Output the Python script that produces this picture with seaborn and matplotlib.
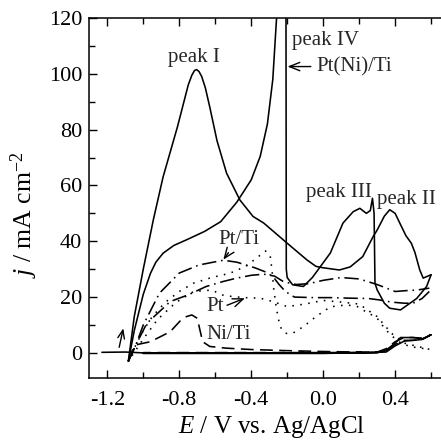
import numpy as np
import pandas as pd
import matplotlib
matplotlib.use("Agg")
import matplotlib.pyplot as plt
import seaborn as sns
from matplotlib.ticker import MultipleLocator

# ---------------- data ----------------
# Pt(Ni)/Ti, solid, forward scan (peak IV goes off scale, then peak III)
ptni_fwd_E = [-1.083, -1.05, -1.0, -0.96, -0.93, -0.89, -0.83, -0.76, -0.66, -0.57, -0.48, -0.40,
              -0.35, -0.31, -0.28, -0.26, -0.245, -0.225, -0.212, -0.207, -0.205, -0.20, -0.17,
              -0.11, -0.06, 0.04, 0.11, 0.167, 0.204, 0.24, 0.262, 0.274, 0.283, 0.288, 0.30,
              0.315, 0.34, 0.37, 0.43, 0.52, 0.575, 0.60]
ptni_fwd_j = [-3.0, 8.0, 21.0, 28.5, 32.5, 35.7, 38.5, 40.5, 43.5, 47.0, 54.0, 62.0,
              70.4, 82.0, 98.0, 119.0, 132.0, 145.0, 150.0, 140.0, 30.0, 27.0, 24.4,
              23.8, 27.0, 35.8, 46.5, 50.6, 51.8, 50.0, 51.0, 55.4, 50.0, 25.0, 22.6,
              20.8, 17.8, 16.0, 15.4, 19.5, 23.8, 28.0]
# Pt(Ni)/Ti, solid, reverse scan (peak II, then peak I)
ptni_rev_E = [0.60, 0.556, 0.537, 0.51, 0.49, 0.46, 0.426, 0.40, 0.37, 0.34, 0.30, 0.278, 0.22,
              0.15, 0.09, 0.0, -0.04, -0.09, -0.20, -0.33, -0.39, -0.463, -0.537, -0.59, -0.63,
              -0.655, -0.675, -0.69, -0.703, -0.715, -0.73, -0.75, -0.78, -0.81, -0.85, -0.89,
              -0.944, -1.0, -1.05, -1.083]
ptni_rev_j = [28.0, 26.8, 29.7, 36.0, 39.3, 42.0, 46.5, 50.0, 51.3, 49.0, 44.0, 41.7, 34.5,
              30.8, 29.7, 30.5, 31.0, 33.3, 39.3, 46.5, 48.9, 54.8, 64.4, 76.0, 88.0,
              95.0, 99.0, 100.8, 101.5, 101.2, 99.5, 96.0, 88.5, 81.0, 72.0, 63.0,
              47.7, 30.0, 13.0, -3.0]

# Pt/Ti, dash-dot (upper and lower branch)
ptti_up_E = [-1.083, -1.04, -1.0, -0.91, -0.80, -0.69, -0.555, -0.48, -0.43, -0.38, -0.32, -0.28,
             -0.245, -0.21, -0.16, -0.05, 0.05, 0.15, 0.25, 0.31, 0.38, 0.45, 0.50, 0.55, 0.59]
ptti_up_j = [-3.0, 3.0, 10.0, 21.4, 28.6, 31.5, 33.2, 32.5, 31.5, 30.5, 29.0, 27.4,
             24.5, 22.0, 20.0, 19.8, 19.8, 19.6, 19.5, 19.0, 18.2, 17.8, 17.8, 19.5, 22.0]
ptti_lo_E = [-1.083, -1.04, -0.98, -0.94, -0.85, -0.75, -0.65, -0.555, -0.48, -0.40, -0.33,
             -0.27, -0.22, -0.15, -0.08, 0.0, 0.10, 0.20, 0.30, 0.40, 0.46, 0.52, 0.59]
ptti_lo_j = [-3.0, 3.0, 10.6, 13.0, 18.4, 20.8, 23.8, 25.6, 26.8, 27.8, 28.2,
             27.5, 25.5, 24.5, 24.8, 26.0, 27.0, 26.5, 24.5, 22.0, 22.3, 22.5, 23.2]

# Pt, dotted
pt_fwd_E = [-1.083, -1.04, -1.0, -0.95, -0.88, -0.80, -0.72, -0.62, -0.52, -0.43, -0.36, -0.32,
            -0.295, -0.285, -0.275, -0.26, -0.24, -0.21, -0.17, -0.11, -0.04, 0.04, 0.13, 0.19,
            0.22, 0.27, 0.31, 0.34, 0.38, 0.42, 0.48, 0.54, 0.59]
pt_fwd_j = [-3.0, 3.0, 8.0, 13.0, 18.0, 22.0, 25.0, 27.0, 28.5, 31.0, 34.5, 36.5,
            35.0, 30.0, 23.0, 16.0, 9.4, 7.0, 7.0, 9.4, 13.0, 16.5, 17.2, 16.6,
            15.4, 13.6, 11.8, 8.8, 6.2, 4.0, 2.3, 1.7, 1.3]
pt_rev_E = [0.59, 0.45, 0.38, 0.30, 0.20, 0.10, 0.0, -0.10, -0.20, -0.28, -0.35, -0.44,
            -0.55, -0.62, -0.72, -0.82, -0.92, -1.0, -1.083]
pt_rev_j = [1.3, 3.5, 7.0, 13.0, 17.5, 18.2, 18.8, 17.5, 16.6, 18.4, 19.6, 19.8,
            20.5, 22.5, 22.0, 18.0, 12.0, 5.0, -3.0]

# Ni/Ti, dashed
niti_E = [-1.083, -1.06, -1.04, -0.96, -0.85, -0.79, -0.76, -0.73, -0.70, -0.685, -0.67, -0.63,
          -0.54, -0.40, -0.20, 0.0, 0.20, 0.30, 0.35, 0.40, 0.45, 0.50, 0.55, 0.60,
          0.55, 0.50, 0.45, 0.40, 0.35, 0.30, 0.0, -0.5, -1.0]
niti_j = [-3.0, 1.0, 2.9, 4.0, 7.6, 11.8, 13.0, 13.6, 12.4, 8.2, 4.0, 2.3,
          1.7, 1.2, 0.8, 0.5, 0.3, 0.3, 1.5, 4.0, 5.5, 5.5, 5.3, 6.5,
          4.8, 4.5, 4.5, 3.0, 0.8, 0.2, 0.1, 0.1, 0.1]

# base line, solid
base_E = [-1.23, -1.10, -1.0, 0.30, 0.35, 0.40, 0.43, 0.50, 0.55, 0.60,
          0.55, 0.45, 0.40, 0.35, 0.0, -1.0]
base_j = [0.2, 0.3, 0.0, 0.0, 1.0, 3.5, 5.5, 5.5, 5.0, 6.5,
          4.8, 4.2, 2.5, 0.3, -0.2, -0.2]

x_ticks = [-1.2, -0.8, -0.4, 0.0, 0.4]
y_ticks = [0, 20, 40, 60, 80, 100, 120]

# ---------------- plot ----------------
sns.set_theme(style="ticks")
plt.rcParams["font.family"] = ["Liberation Serif", "DejaVu Serif"]
plt.rcParams["mathtext.fontset"] = "custom"
plt.rcParams["mathtext.rm"] = "Liberation Serif"
plt.rcParams["mathtext.it"] = "Liberation Serif:italic"

fig = plt.figure(figsize=(4.41, 4.40), dpi=100)
ax = fig.add_axes([89.3 / 441, 62 / 440, (441 - 89.3) / 441, (378 - 18) / 440])

lw = 1.15
def draw(E, j, **kw):
    df = pd.DataFrame({"E": E, "j": j})
    sns.lineplot(data=df, x="E", y="j", sort=False, estimator=None, ax=ax,
                 color="black", lw=lw, **kw)

draw(base_E, base_j, linestyle="-")
draw(ptni_fwd_E, ptni_fwd_j, linestyle="-")
draw(ptni_rev_E, ptni_rev_j, linestyle="-")
draw(ptti_up_E, ptti_up_j, dashes=[9, 3, 1, 3])
draw(ptti_lo_E, ptti_lo_j, dashes=[9, 3, 1, 3])
draw(pt_fwd_E, pt_fwd_j, dashes=[1, 4])
draw(pt_rev_E, pt_rev_j, dashes=[1, 4])
draw(niti_E, niti_j, dashes=[8, 4])

ax.set_xlim(-1.3, 0.655)
ax.set_ylim(-9, 120)
ax.xaxis.set_major_locator(plt.FixedLocator(x_ticks))
ax.xaxis.set_minor_locator(MultipleLocator(0.2))
ax.yaxis.set_major_locator(plt.FixedLocator(y_ticks))
ax.yaxis.set_minor_locator(MultipleLocator(10))
ax.set_xticklabels([f"{v:.1f}" for v in x_ticks])
ax.set_yticklabels([str(v) for v in y_ticks])
ax.tick_params(axis="both", which="both", direction="in", top=True, right=False,
               labelsize=16, width=1.0, colors="black")
ax.tick_params(axis="both", which="major", length=6)
ax.tick_params(axis="x", which="major", pad=9)
ax.tick_params(axis="y", which="major", pad=5)
ax.tick_params(axis="both", which="minor", length=4.5)
ax.spines["right"].set_visible(False)
for s in ["left", "top", "bottom"]:
    ax.spines[s].set_linewidth(1.1)
    ax.spines[s].set_color("black")

ax.set_xlabel(r"$\mathit{E}$ / V vs. Ag/AgCl", fontsize=18, color="black")
ax.set_ylabel(r"$\mathit{j}$ / mA cm$^{-2}$", fontsize=18.5, color="black")
ax.xaxis.set_label_coords(0.517, -0.1)
ax.yaxis.set_label_coords(-0.14, 0.455)

fs = 15
ax.text(-0.72, 106, "peak I", ha="center", va="center", fontsize=fs)
ax.text(-0.172, 112, "peak IV", ha="left", va="center", fontsize=fs)
ax.text(-0.095, 57.5, "peak III", ha="left", va="center", fontsize=fs)
ax.text(0.30, 55, "peak II", ha="left", va="center", fontsize=fs)
ap = dict(arrowstyle="->,head_length=0.5,head_width=0.2", lw=1.0, color="black",
          shrinkA=0, shrinkB=0)
ax.annotate("Pt(Ni)/Ti", xy=(-0.198, 102.6), xytext=(-0.035, 102.6), ha="left", va="center",
            fontsize=fs, arrowprops=dict(ap, shrinkA=2))
ax.annotate("Pt/Ti", xy=(-0.555, 33.4), xytext=(-0.585, 40.5), ha="left", va="center",
            fontsize=fs, arrowprops=dict(ap, relpos=(0.35, 0.1)))
ax.annotate("Pt", xy=(-0.435, 19.6), xytext=(-0.65, 16.6), ha="left", va="center",
            fontsize=fs, arrowprops=dict(ap, relpos=(1.0, 0.5)))
ax.text(-0.65, 6.5, "Ni/Ti", ha="left", va="center", fontsize=fs)
ax.annotate("", xy=(-1.111, 8.8), xytext=(-1.134, 2.0), arrowprops=ap)

fig.savefig("out.png", dpi=100)
